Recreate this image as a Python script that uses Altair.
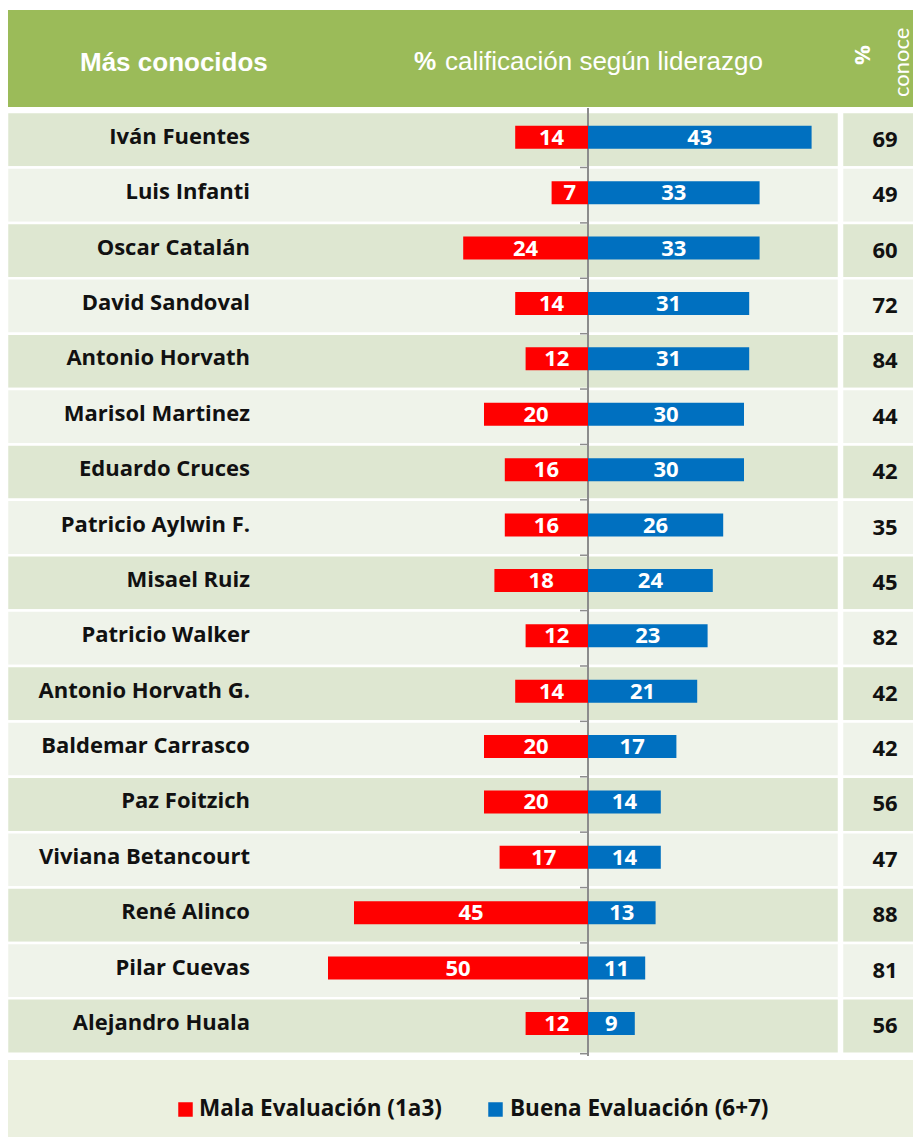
import altair as alt
import pandas as pd

names = ["Iván Fuentes", "Luis Infanti", "Oscar Catalán", "David Sandoval",
         "Antonio Horvath", "Marisol Martinez", "Eduardo Cruces",
         "Patricio Aylwin F.", "Misael Ruiz", "Patricio Walker",
         "Antonio Horvath G.", "Baldemar Carrasco", "Paz Foitzich",
         "Viviana Betancourt", "René Alinco", "Pilar Cuevas", "Alejandro Huala"]
mala = [14, 7, 24, 14, 12, 20, 16, 16, 18, 12, 14, 20, 20, 17, 45, 50, 12]
buena = [43, 33, 33, 31, 31, 30, 30, 26, 24, 23, 21, 17, 14, 14, 13, 11, 9]
conoce = [69, 49, 60, 72, 84, 44, 42, 35, 45, 82, 42, 42, 56, 47, 88, 81, 56]
series_labels = ["Mala Evaluación (1a3)", "Buena Evaluación (6+7)"]
series_colors = ["#FF0000", "#0070C0"]

rows = pd.DataFrame({"name": names, "conoce": conoce})
rows["pos"] = range(len(rows))
rows["r0"] = rows["pos"] - 0.5
rows["r1"] = rows["pos"] + 0.5
rows["shade"] = ["dark" if i % 2 == 0 else "light" for i in rows["pos"]]

long = pd.concat([
    pd.DataFrame({"name": names, "serie": series_labels[0],
                  "v": [-m for m in mala], "lab": mala}),
    pd.DataFrame({"name": names, "serie": series_labels[1],
                  "v": buena, "lab": buena}),
], ignore_index=True)
long["pos"] = [names.index(n) for n in long["name"]]
long["mid"] = long["v"] / 2
long["z"] = 0

W, H = 905, 1129
PX = 5.2            # pixels per percentage point
ZERO = 580          # pixel position of 0
ROW = 950 / 17      # pixels per row
TOP = 100           # pixel top of first row
xscale = alt.Scale(domain=[-ZERO / PX, (W - ZERO) / PX], nice=False, zero=False)
y0 = -0.5 - TOP / ROW
yscale = alt.Scale(domain=[y0, y0 + H / ROW], reverse=True, nice=False, zero=False)
color_scale = alt.Scale(domain=series_labels, range=series_colors)

one = pd.DataFrame({"k": [0]})
LAB_FONT = "Open Sans"
HEAD_FONT = "Liberation Sans"
shade_scale = alt.Scale(domain=["dark", "light"], range=["#DEE7D1", "#EFF3EA"])

bg = alt.Chart(rows).mark_rect(stroke="white", strokeWidth=2.5).encode(
    y=alt.Y("r0:Q", scale=yscale, axis=None), y2="r1:Q",
    x=alt.value(-1), x2=alt.value(831),
    fill=alt.Fill("shade:N", scale=shade_scale, legend=None),
)
bg_right = alt.Chart(rows).mark_rect(stroke="white", strokeWidth=2.5).encode(
    y=alt.Y("r0:Q", scale=yscale, axis=None), y2="r1:Q",
    x=alt.value(834), x2=alt.value(910),
    fill=alt.Fill("shade:N", scale=shade_scale, legend=None),
)
header = alt.Chart(one).mark_rect(color="#9BBB59").encode(
    x=alt.value(-4), x2=alt.value(910), y=alt.value(2), y2=alt.value(99))
legend_bg = alt.Chart(one).mark_rect(color="#EBF0DF").encode(
    x=alt.value(-2), x2=alt.value(910), y=alt.value(1052), y2=alt.value(1135))

zero_line = alt.Chart(one).mark_rule(color="#8C8C8C", strokeWidth=2).encode(
    x=alt.value(ZERO), y=alt.value(100), y2=alt.value(1048))
ticks = alt.Chart(rows).mark_rule(color="#8C8C8C", strokeWidth=1.5).encode(
    y=alt.Y("r1:Q", scale=yscale, axis=None),
    x=alt.value(572), x2=alt.value(580))

bars = alt.Chart(long).mark_bar(size=23, orient="horizontal", yOffset=-2.5).encode(
    y=alt.Y("pos:Q", scale=yscale, axis=None),
    x=alt.X("v:Q", scale=xscale, axis=None),
    x2="z:Q",
    color=alt.Color("serie:N", scale=color_scale, legend=None),
)
bar_labels = alt.Chart(long).mark_text(color="white", font=LAB_FONT, fontWeight="bold",
                                       fontSize=22, baseline="middle", dy=-2).encode(
    y=alt.Y("pos:Q", scale=yscale, axis=None),
    x=alt.X("mid:Q", scale=xscale, axis=None), text=alt.Text("lab:Q"))

name_labels = alt.Chart(rows).mark_text(align="right", baseline="middle", font=LAB_FONT,
                                        fontWeight="bold", fontSize=22, color="#111111",
                                        dy=-3).encode(
    y=alt.Y("pos:Q", scale=yscale, axis=None), x=alt.value(242), text="name:N")
conoce_labels = alt.Chart(rows).mark_text(align="center", baseline="middle", font=LAB_FONT,
                                          fontWeight="bold", fontSize=22, color="#111111",
                                          dy=0).encode(
    y=alt.Y("pos:Q", scale=yscale, axis=None), x=alt.value(877), text=alt.Text("conoce:Q"))

# legend (manual, coloured through the same colour scale)
leg = pd.DataFrame({"serie": series_labels})
leg_sq1 = alt.Chart(leg[leg.serie == series_labels[0]]).mark_point(
    shape="square", filled=True, size=210, opacity=1).encode(
    x=alt.value(177.5), y=alt.value(1101.5),
    color=alt.Color("serie:N", scale=color_scale, legend=None))
leg_sq2 = alt.Chart(leg[leg.serie == series_labels[1]]).mark_point(
    shape="square", filled=True, size=210, opacity=1).encode(
    x=alt.value(487.5), y=alt.value(1101.5),
    color=alt.Color("serie:N", scale=color_scale, legend=None))
leg_t1 = alt.Chart(leg[leg.serie == series_labels[0]]).mark_text(
    align="left", baseline="middle", font=LAB_FONT, fontWeight="bold", fontSize=22.5,
    color="#111111").encode(x=alt.value(191), y=alt.value(1101), text="serie:N")
leg_t2 = alt.Chart(leg[leg.serie == series_labels[1]]).mark_text(
    align="left", baseline="middle", font=LAB_FONT, fontWeight="bold", fontSize=22.5,
    color="#111111").encode(x=alt.value(502), y=alt.value(1101), text="serie:N")

h1 = alt.Chart(pd.DataFrame({"t": ["Más conocidos"]})).mark_text(
    align="left", baseline="alphabetic", font=HEAD_FONT, fontWeight="bold", fontSize=26,
    color="white").encode(x=alt.value(72), y=alt.value(63), text="t:N")
h2a = alt.Chart(pd.DataFrame({"t": ["%"]})).mark_text(
    align="left", baseline="alphabetic", font=HEAD_FONT, fontWeight="bold", fontSize=25,
    color="white").encode(x=alt.value(406), y=alt.value(62), text="t:N")
h2b = alt.Chart(pd.DataFrame({"t": ["calificación según liderazgo"]})).mark_text(
    align="left", baseline="alphabetic", font=HEAD_FONT, fontSize=26,
    color="white").encode(x=alt.value(437), y=alt.value(62), text="t:N")
h3a = alt.Chart(pd.DataFrame({"t": ["%"]})).mark_text(
    align="center", baseline="middle", font=LAB_FONT, fontWeight="bold", fontSize=22,
    color="white", angle=270).encode(x=alt.value(855), y=alt.value(47), text="t:N")
h3b = alt.Chart(pd.DataFrame({"t": ["conoce"]})).mark_text(
    align="left", baseline="middle", font="Lato", fontWeight="normal", fontSize=22,
    color="white", angle=270).encode(x=alt.value(894), y=alt.value(89), text="t:N")

chart = alt.layer(
    header, bg, bg_right, legend_bg, zero_line, ticks,
    bars, bar_labels, name_labels, conoce_labels,
    leg_sq1, leg_sq2, leg_t1, leg_t2, h1, h2a, h2b, h3a, h3b,
).properties(width=W, height=H, padding=0, autosize="none").configure_view(stroke=None)

chart.save("out.html", embed_options={"renderer": "svg", "actions": False})
